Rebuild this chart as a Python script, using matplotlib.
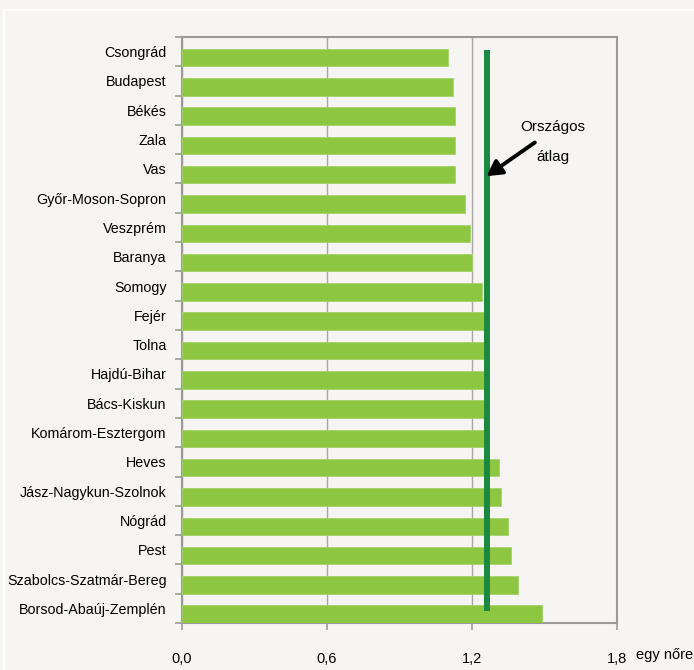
import matplotlib
matplotlib.use('Agg')
import matplotlib.pyplot as plt
from matplotlib.patches import Rectangle
import numpy as np

plt.rcParams['font.family'] = ['Liberation Sans', 'DejaVu Sans']

# data
megyek = ['Csongrád', 'Budapest', 'Békés', 'Zala', 'Vas', 'Győr-Moson-Sopron',
          'Veszprém', 'Baranya', 'Somogy', 'Fejér', 'Tolna', 'Hajdú-Bihar',
          'Bács-Kiskun', 'Komárom-Esztergom', 'Heves', 'Jász-Nagykun-Szolnok',
          'Nógrád', 'Pest', 'Szabolcs-Szatmár-Bereg', 'Borsod-Abaúj-Zemplén']
ertekek = [1.10, 1.12, 1.13, 1.13, 1.13, 1.17, 1.19, 1.20, 1.24, 1.25, 1.25,
           1.25, 1.25, 1.25, 1.31, 1.32, 1.35, 1.36, 1.39, 1.49]
orszagos_atlag = 1.26
x_ticks = [0.0, 0.6, 1.2, 1.8]
x_ticklabels = ['0,0', '0,6', '1,2', '1,8']

bg = '#f6f5f3'
fig = plt.figure(figsize=(6.94, 6.70), dpi=100, facecolor=bg)
fig.patches.append(Rectangle((4/694, -0.01), 1.0, 1 - 10/670 + 0.01,
                             transform=fig.transFigure, fill=False,
                             edgecolor='white', linewidth=1.5))

ax = fig.add_axes([182/694, 47/670, 435/694, 586/670], facecolor=bg)

y = np.arange(len(megyek))
ax.barh(y + 0.2, ertekek, height=0.6, color='#8dc641', edgecolor='#a4d46a',
        linewidth=0.6, zorder=3)

# average line
ax.plot([orszagos_atlag, orszagos_atlag], [-0.05, 19.1], color='#1b8a40',
        linewidth=4.3, solid_capstyle='butt', zorder=4)

ax.set_xlim(0, 1.8)
ax.set_ylim(19.5, -0.5)

ax.set_yticks(y)
ax.set_yticklabels(megyek, fontsize=10.3)
ax.set_yticks(np.arange(-0.5, 20, 1), minor=True)
ax.tick_params(axis='y', which='major', length=0, pad=11)
ax.tick_params(axis='y', which='minor', length=5, color='#9a9a9a', width=1.2)

ax.set_xticks(x_ticks)
ax.set_xticklabels(x_ticklabels, fontsize=10.5)
ax.tick_params(axis='x', length=5, color='#9a9a9a', width=1.2, pad=16)

ax.grid(axis='x', color='#a8a8a8', linewidth=1.0, zorder=0)
for s in ax.spines.values():
    s.set_color('#9a9a9a')
    s.set_linewidth(1.5)

# unit label next to last tick
fig.text(636/694, 1 - 655/670, 'egy nőre', fontsize=10.5,
         va='center', ha='left')

ax.annotate('', xy=(orszagos_atlag, 4.25), xytext=(1.46, 3.1),
            arrowprops=dict(arrowstyle='-|>,head_length=0.9,head_width=0.5',
                            color='black', lw=2.8, shrinkA=0, shrinkB=0),
            zorder=5)
ax.text(1.533, 2.57, 'Országos', fontsize=11, ha='center', va='center')
ax.text(1.533, 3.6, 'átlag', fontsize=11, ha='center', va='center')

plt.savefig('out.png', dpi=100, facecolor=bg)
